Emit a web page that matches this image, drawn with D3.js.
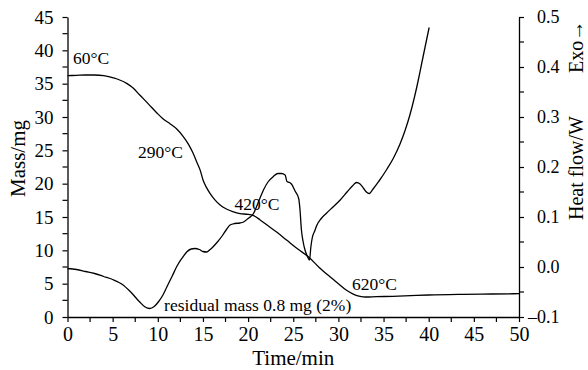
<!DOCTYPE html>
<html>
<head>
<meta charset="utf-8">
<script src="https://cdn.jsdelivr.net/npm/d3@7"></script>
<style>
  html, body { margin: 0; padding: 0; background: #fff; }
  svg { display: block; }
  text { font-family: "Liberation Serif", "Times New Roman", serif; fill: #000; }
</style>
</head>
<body>
<svg id="chart" width="588" height="370"></svg>
<script>
// ---- Data ----
const massTime   = [0, 1, 2, 3, 4, 4.7, 5.5, 6.6, 7.3, 8.0, 9.0, 9.9, 10.6, 11.35, 12.1, 12.8, 13.4, 13.9, 14.3, 14.7, 15.0, 15.4, 15.8, 16.3, 16.9, 17.6, 18.3, 19.1, 20.0, 20.6, 21.3, 22.1, 23.2, 24.3, 25.5, 26.7, 27.9, 29.1, 30.0, 30.9, 31.7, 32.4, 33.0, 34.2, 36, 38, 40, 43.8, 47, 50];
const massValues = [36.2, 36.25, 36.3, 36.3, 36.2, 36.0, 35.7, 35.0, 34.3, 33.3, 31.9, 30.6, 29.7, 29.0, 28.2, 27.1, 25.9, 24.6, 23.3, 22.0, 20.6, 19.4, 18.5, 17.6, 16.8, 16.2, 15.8, 15.5, 15.4, 15.2, 14.6, 13.8, 12.7, 11.5, 10.2, 9.0, 7.4, 6.0, 5.0, 4.0, 3.4, 3.1, 3.0, 3.05, 3.1, 3.2, 3.3, 3.4, 3.45, 3.5];

const heatTime   = [0, 1, 2, 3, 4, 5, 6, 7, 8, 8.6, 9.1, 9.6, 10.1, 10.6, 11.0, 11.6, 12.1, 12.7, 13.2, 13.7, 14.1, 14.6, 15.0, 15.4, 15.8, 16.1, 16.6, 17.2, 17.6, 18.0, 18.5, 19.1, 19.5, 20.0, 20.6, 21.1, 21.7, 22.2, 22.8, 23.3, 23.7, 24.1, 24.3, 24.6, 24.8, 25.2, 25.6, 25.75, 25.9, 26.1, 26.3, 26.55, 26.8, 26.95, 27.1, 27.4, 27.6, 28.1, 28.7, 29.4, 30.2, 31.0, 31.6, 32.0, 32.4, 32.8, 33.1, 33.4, 33.8, 34.5, 35.35, 36.1, 36.8, 37.4, 37.9, 38.4, 38.85, 39.2, 39.6, 40.05];
const heatValues = [-0.003, -0.005, -0.009, -0.013, -0.019, -0.025, -0.034, -0.050, -0.070, -0.080, -0.083, -0.079, -0.069, -0.055, -0.040, -0.018, 0.001, 0.018, 0.030, 0.036, 0.037, 0.035, 0.031, 0.030, 0.035, 0.040, 0.050, 0.064, 0.075, 0.084, 0.087, 0.088, 0.090, 0.097, 0.107, 0.128, 0.154, 0.170, 0.181, 0.187, 0.187, 0.184, 0.171, 0.169, 0.166, 0.152, 0.137, 0.114, 0.075, 0.050, 0.034, 0.022, 0.014, 0.040, 0.058, 0.073, 0.083, 0.097, 0.108, 0.120, 0.134, 0.151, 0.163, 0.169, 0.166, 0.157, 0.150, 0.147, 0.155, 0.172, 0.195, 0.218, 0.245, 0.274, 0.303, 0.338, 0.374, 0.405, 0.440, 0.479];

const timeTicks = [0, 5, 10, 15, 20, 25, 30, 35, 40, 45, 50];
const massTicks = [0, 5, 10, 15, 20, 25, 30, 35, 40, 45];
const heatTicks = [-0.1, 0.0, 0.1, 0.2, 0.3, 0.4, 0.5];

const annotations = [
  { t: 0.6,  m: 38.0, label: "60°C" },
  { t: 7.8,  m: 23.8, label: "290°C" },
  { t: 18.5, m: 16.1, label: "420°C" },
  { t: 31.5, m: 4.05, label: "620°C" },
  { t: 10.7, m: 0.95, label: "residual mass 0.8 mg (2%)" }
];

// ---- Layout ----
const svg = d3.select("#chart");
const L = 67.5, R = 519, T = 17, B = 317;

const x = d3.scaleLinear().domain([0, 50]).range([L, R]);
const yM = d3.scaleLinear().domain([0, 45]).range([B, T]);
const yH = d3.scaleLinear().domain([-0.1, 0.5]).range([B, T]);

const fontFam = '"Liberation Serif", "Times New Roman", serif';

// minor ticks
function minor(g, scale, vals, orient) {
  g.selectAll("line.minor").data(vals).join("line")
    .attr("class", "minor").attr("stroke", "#000").attr("stroke-width", 1.2)
    .each(function(d) {
      const s = d3.select(this);
      if (orient === "bottom") s.attr("x1", scale(d)).attr("x2", scale(d)).attr("y1", 0).attr("y2", 5);
      if (orient === "left")   s.attr("y1", scale(d)).attr("y2", scale(d)).attr("x1", 0).attr("x2", -5);
      if (orient === "right")  s.attr("y1", scale(d)).attr("y2", scale(d)).attr("x1", 0).attr("x2", 5);
    });
}

// bottom axis
const gx = svg.append("g").attr("transform", `translate(0,${B})`)
  .call(d3.axisBottom(x).tickValues(timeTicks).tickSize(5).tickPadding(5).tickSizeOuter(0).tickFormat(d3.format("d")));
minor(gx, x, d3.range(2.5, 50, 5), "bottom");
gx.selectAll("text").attr("font-size", 20).attr("font-family", fontFam);

// left axis
const gy = svg.append("g").attr("transform", `translate(${L},0)`)
  .call(d3.axisLeft(yM).tickValues(massTicks).tickSize(5).tickPadding(9).tickSizeOuter(0).tickFormat(d3.format("d")));
minor(gy, yM, d3.range(2.5, 45, 5), "left");
gy.selectAll("text").attr("font-size", 19).attr("font-family", fontFam);

// right axis
const gr = svg.append("g").attr("transform", `translate(${R},0)`)
  .call(d3.axisRight(yH).tickValues(heatTicks).tickSize(5).tickPadding(13).tickSizeOuter(0)
    .tickFormat(d => (d < 0 ? "–" : "") + Math.abs(d).toFixed(1)));
minor(gr, yH, d3.range(-0.05, 0.5, 0.1), "right");
gr.selectAll("text").attr("font-size", 18).attr("font-family", fontFam);
// shift negative labels so the digits align with the others
const probe = svg.append("text").attr("font-size", 18).attr("font-family", fontFam).text("–");
const dashW = probe.node().getComputedTextLength();
probe.remove();
gr.selectAll("text").filter(d => d < 0).attr("dx", -dashW);

svg.selectAll(".domain").attr("stroke", "#000").attr("stroke-width", 1.3);
svg.selectAll(".tick line").attr("stroke", "#000").attr("stroke-width", 1.2);

// curves
const massLine = d3.line().x((d, i) => x(massTime[i])).y(d => yM(d)).curve(d3.curveMonotoneX);
const heatLine = d3.line().x((d, i) => x(heatTime[i])).y(d => yH(d)).curve(d3.curveMonotoneX);

svg.append("path").datum(massValues).attr("d", massLine)
  .attr("fill", "none").attr("stroke", "#000").attr("stroke-width", 1.3);
svg.append("path").datum(heatValues).attr("d", heatLine)
  .attr("fill", "none").attr("stroke", "#000").attr("stroke-width", 1.3);

// annotations
svg.selectAll("text.ann").data(annotations).join("text")
  .attr("class", "ann").attr("x", d => x(d.t)).attr("y", d => yM(d.m))
  .attr("font-size", 17.5).text(d => d.label);

// axis titles
svg.append("text").attr("x", x(25)).attr("y", 365).attr("text-anchor", "middle")
  .attr("font-size", 21).text("Time/min");
svg.append("text").attr("transform", "translate(25,197) rotate(-90)")
  .attr("font-size", 21).text("Mass/mg");
svg.append("text").attr("transform", "translate(583,220) rotate(-90)")
  .attr("font-size", 20).text("Heat flow/W");
svg.append("text").attr("transform", "translate(583,73) rotate(-90)")
  .attr("font-size", 20).text("Exo→");
</script>
</body>
</html>
